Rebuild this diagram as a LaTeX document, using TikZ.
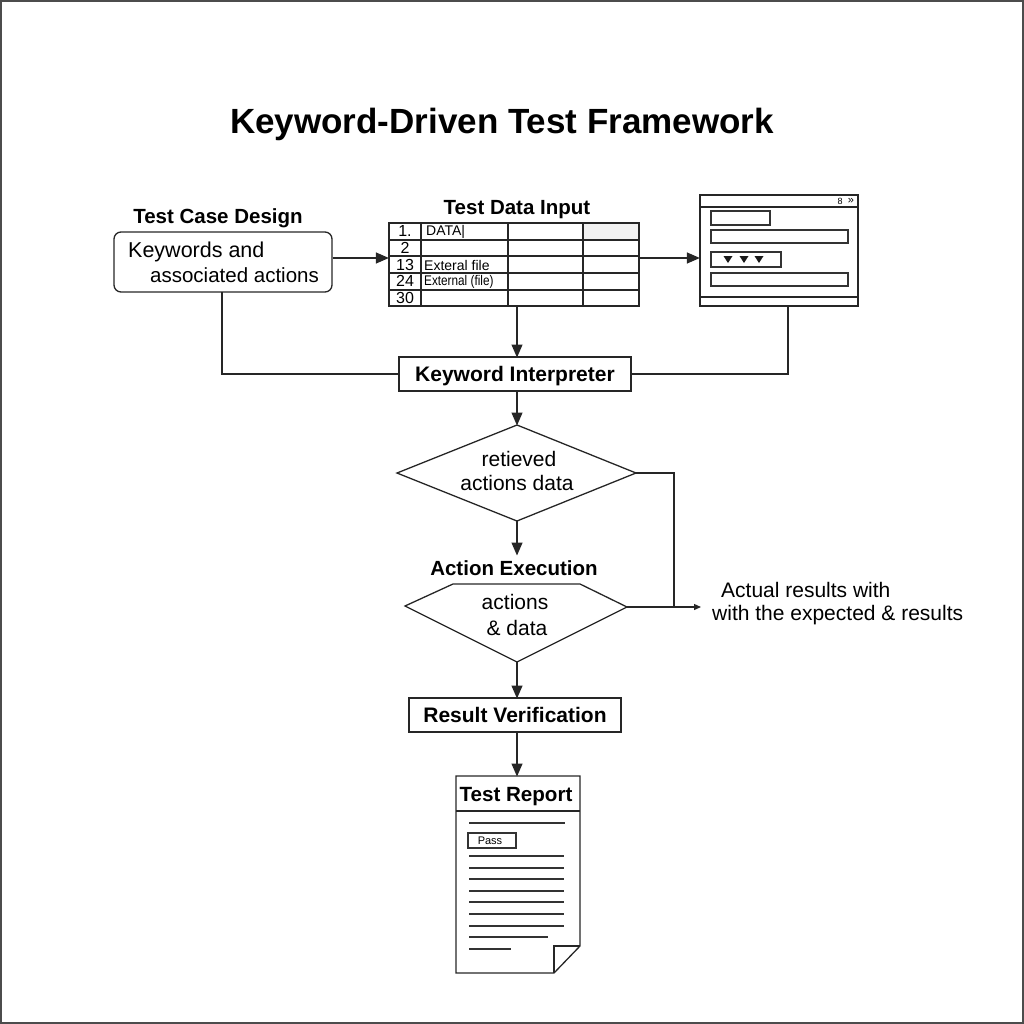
\documentclass[tikz,border=0pt]{standalone}
\usepackage{fontspec}
\usepackage{graphicx}
\setmainfont{Liberation Sans}
\usetikzlibrary{arrows.meta}
\tikzset{
 line/.style={draw=black!85,line width=1.3pt},
 conn/.style={line,-{Triangle[length=13pt,width=11pt]},shorten >=-0.5pt},
 thin line/.style={draw=black!80,line width=1.1pt},
 txt/.style={inner sep=0pt,text=black},
 hd/.style={txt,yshift=-2pt,font=\fontsize{20.5}{24}\selectfont\bfseries},
 lbl/.style={txt,font=\fontsize{21}{24}\selectfont},
 cell/.style={txt,font=\fontsize{14}{16}\selectfont},
 num/.style={txt,font=\fontsize{16}{18}\selectfont},
 box/.style={line,fill=white,inner sep=0pt,text height=15.5pt,text depth=0pt,font=\fontsize{21}{25}\selectfont\bfseries},
}
\begin{document}
\begin{tikzpicture}[x=1pt,y=-1pt]
\useasboundingbox (0,0) rectangle (1024,1024);
\draw[black!70,line width=1.6pt] (0.8,0.8) rectangle (1023.2,1023.2);
\node[txt,font=\fontsize{35}{40}\selectfont\bfseries] (title) at (502,124) {Keyword-Driven Test Framework};
% test case design
\node[hd] (tcd) at (218,216) {Test Case Design};
\node[line,rounded corners=7pt,minimum width=218pt,minimum height=60pt,inner sep=0pt] (kw) at (223,262) {};
\node[lbl,anchor=west,font=\fontsize{21.5}{24}\selectfont] (kw1) at (128,252) {Keywords and};
\node[lbl,anchor=west,font=\fontsize{20.5}{24}\selectfont] (kw2) at (150,275) {associated actions};
% table
\node[hd] (tdi) at (517,208) {Test Data Input};
\node[minimum width=250pt,minimum height=83pt,inner sep=0pt,line] (tbl) at (514,264.5) {};
\fill[black!5] (584,224) rectangle (638,239);
\foreach \y in {240,256,273,290} \draw[line] (389,\y) -- (639,\y);
\foreach \x in {421,508,583} \draw[line] (\x,223) -- (\x,306);
\node[num] (n1) at (405,231) {1.};
\node[num] (n2) at (405,248) {2};
\node[num] (n3) at (405,264.5) {13};
\node[num] (n4) at (405,281) {24};
\node[num] (n5) at (405,297.5) {30};
\node[cell,anchor=west] (c1) at (426,231.5) {DATA|};
\node[cell,anchor=west] (c3) at (424,265) {Exteral file};
\node[cell,anchor=west] (c4) at (424,282) {\scalebox{0.84}[1]{External (file)}};
% window
\node[line,minimum width=158pt,minimum height=111pt,inner sep=0pt] (win) at (779,250.5) {};
\draw[line] (700,207) -- (858,207);
\draw[line] (700,297) -- (858,297);
\node[txt,font=\fontsize{9}{9}\selectfont] (wb1) at (840,201.5) {8};
\node[txt,font=\fontsize{11}{11}\selectfont] (wb2) at (851,201) {»};
\draw[thin line] (711,211) rectangle (770,225);
\draw[thin line] (711,230) rectangle (848,243);
\draw[thin line] (711,252) rectangle (781,267);
\draw[thin line] (711,273) rectangle (848,286);
\foreach \x in {728,744,759} \fill[black!90] (\x-4.5,256) -- (\x+4.5,256) -- (\x,263) -- cycle;
% interpreter
\node[box,minimum width=232pt,minimum height=34pt] (ki) at (515,374) {Keyword Interpreter};
% diamond 1
\coordinate (d1w) at (397,473); \coordinate (d1n) at (517,425);
\coordinate (d1e) at (636,473); \coordinate (d1s) at (517,521);
\draw[line] (d1w) -- (d1n) -- (d1e) -- (d1s) -- cycle;
\node[lbl] (d1a) at (519,459) {retieved};
\node[lbl] (d1b) at (517,483) {actions data};
% action execution
\coordinate (d2w) at (405,606); \coordinate (d2e) at (627,607); \coordinate (d2s) at (517,662);
\coordinate (d2nl) at (453,584); \coordinate (d2nr) at (580,584);
\draw[line] (d2nl) -- (d2w) -- (d2s) -- (d2e) -- (d2nr) -- cycle;
\node[hd] (ae) at (514,566.5) {Action Execution};
\node[lbl] (d2a) at (515,602) {actions};
\node[lbl] (d2b) at (517,628) {\& data};
% verification
\node[box,minimum width=212pt,minimum height=34pt] (rv) at (515,715) {Result Verification};
% report
\coordinate (r1) at (456,776); \coordinate (r2) at (580,776); \coordinate (r3) at (580,946);
\coordinate (r4) at (554,973); \coordinate (r5) at (456,973); \coordinate (r6) at (554,946);
\draw[line] (r1) -- (r2) -- (r3) -- (r4) -- (r5) -- cycle;
\draw[line] (r3) -- (r6) -- (r4);
\draw[line] (456,811) -- (580,811);
\node[hd,font=\fontsize{20.6}{25}\selectfont\bfseries] (tr) at (516,795) {Test Report};
\draw[thin line] (469,823) -- (565,823);
\draw[thin line] (468,833) rectangle (516,848);
\node[txt,font=\fontsize{11}{12}\selectfont] (pass) at (490,841) {Pass};
\foreach \y in {856,868,879,891,902,914,926} \draw[thin line] (469,\y) -- (564,\y);
\draw[thin line] (469,937) -- (548,937);
\draw[thin line] (469,949) -- (511,949);
% results
\coordinate (rt) at (701,607);
\node[lbl,anchor=west] (ar1) at (721,590) {Actual results with};
\node[lbl,anchor=west] (ar2) at (712,615) {with the expected \& results};
% connectors
\draw[conn] (kw.east |- 0,258) -- (tbl.west |- 0,258);
\draw[conn] (tbl.east |- 0,258) -- (win.west |- 0,258);
\draw[line] (222,292) |- (ki.west);
\draw[line] (ki.east) -| (788,306);
\draw[conn] (517,306) -- (517,357);
\draw[conn] (517,391) -- (d1n);
\draw[conn] (d1s) -- (517,555);
\draw[line] (d1e) -- (674,473) -- (674,607);
\draw[line,-{Triangle[length=7pt,width=6pt]}] (d2e) -- (rt);
\draw[conn] (d2s) -- (517,698);
\draw[conn] (517,732) -- (517,776);
\end{tikzpicture}
\end{document}
